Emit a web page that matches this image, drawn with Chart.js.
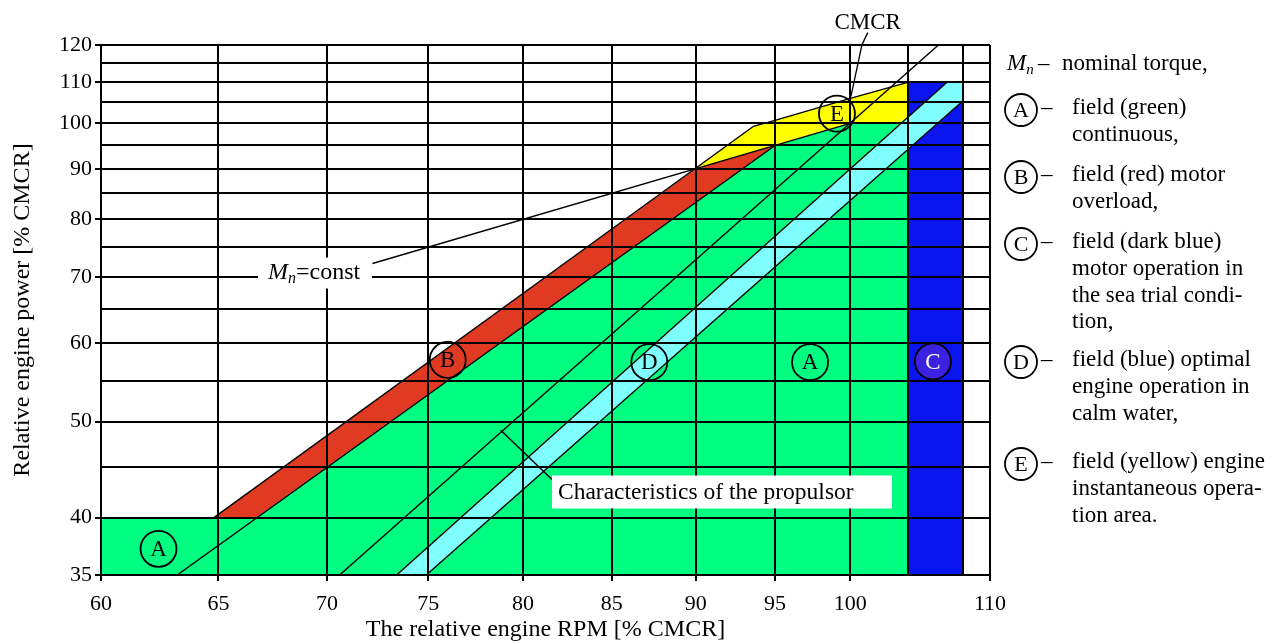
<!DOCTYPE html>
<html><head><meta charset="utf-8">
<script src="https://cdn.jsdelivr.net/npm/chart.js@4.4.1/dist/chart.umd.min.js"></script>
<style>html,body{margin:0;padding:0;background:#fff;}canvas{display:block;}</style>
</head><body>
<canvas id="c" width="1283" height="642"></canvas>
<script>
// ---- axis grid / tick labels ----
const xGrid = [60,65,70,75,80,85,90,95,100,104,108,110];
const xLabels = [60,65,70,75,80,85,90,95,100,110];
const yGrid = [35,40,45,50,55,60,65,70,75,80,85,90,95,100,105,110,115,120];
const yLabels = [35,40,50,60,70,80,90,100,110,120];

// ---- fields (polygon vertices: RPM %, power %) ----
const fieldA_rpm = [60,60,66.7,95,100,104,104];
const fieldA_pow = [35,40,40,95,100,100,35];
const fieldB_rpm = [64.8,90,95,66.7];
const fieldB_pow = [40,90,95,40];
const fieldC_rpm = [104,104,108,108];
const fieldC_pow = [35,110,110,35];
const fieldD_rpm = [73.4,106.8,108,108,74.9];
const fieldD_pow = [35,110,110,105.4,35];
const fieldE_rpm = [90,93.6,95,100,104,104,100,95];
const fieldE_pow = [90,99.3,100.7,106,110,100,100,95];

// ---- lines ----
const overloadUpper_rpm = [64.8,93.6];
const overloadUpper_pow = [40,99.3];
const overloadLower_rpm = [63.2,95];
const overloadLower_pow = [35,95];
const torqueLimit_rpm = [93.6,95,100,104];
const torqueLimit_pow = [99.3,100.7,106,110];
const mnConst_rpm = [72.2,100];
const mnConst_pow = [72.2,100];
const prop1_rpm = [70.6,106.2];
const prop1_pow = [35,120];
const prop2_rpm = [73.4,106.8];
const prop2_pow = [35,110];
const prop3_rpm = [74.9,108];
const prop3_pow = [35,105.4];
const cmcr_rpm = [100.05,100.8,101.2];
const cmcr_pow = [106.5,120,123.5];
const pointer_rpm = [78.8,81.6];
const pointer_pow = [49.0,43.7];

// ---- field markers (in data units) ----
const markerText = ['A','B','D','A','C','E'];
const markerRpm = [62.4,76.0,87.2,97.3,105.8,99.1];
const markerPow = [37.2,57.7,57.4,57.4,57.5,102.3];

const FONT = '"Liberation Serif", "Times New Roman", serif';

function pts(xs, ys){ return xs.map((x,i)=>({x:x, y:ys[i]})); }
function field(label, xs, ys, color, order){
  return {label, data: pts(xs,ys), showLine:true, fill:'shape', backgroundColor:color,
    borderColor:'rgba(0,0,0,0)', borderWidth:0, pointRadius:0, order};
}
function line(label, xs, ys, w, extra){
  return Object.assign({label, data: pts(xs,ys), showLine:true, fill:false, borderColor:'#000',
    borderWidth:w, pointRadius:0, order:0}, extra||{});
}

const datasets = [
  line('pointer', pointer_rpm, pointer_pow, 1.5),
  line('CMCR', cmcr_rpm, cmcr_pow, 1.3, {clip:false}),
  line('overload upper', overloadUpper_rpm, overloadUpper_pow, 1.4),
  line('overload lower', overloadLower_rpm, overloadLower_pow, 1.4),
  line('torque limit', torqueLimit_rpm, torqueLimit_pow, 1.4),
  line('Mn=const', mnConst_rpm, mnConst_pow, 1.4),
  line('propeller 1', prop1_rpm, prop1_pow, 1.4),
  line('propeller 2', prop2_rpm, prop2_pow, 1.4),
  line('propeller 3', prop3_rpm, prop3_pow, 1.4),
  field('D', fieldD_rpm, fieldD_pow, '#80FFFF', 1),
  field('C', fieldC_rpm, fieldC_pow, '#0A14EE', 2),
  field('E', fieldE_rpm, fieldE_pow, '#FFFF00', 3),
  field('B', fieldB_rpm, fieldB_pow, '#E03A22', 4),
  field('A', fieldA_rpm, fieldA_pow, '#00FF80', 5)
];

function drawMn(ctx, x, y, size){
  ctx.textAlign = 'left'; ctx.textBaseline = 'middle'; ctx.fillStyle = '#000';
  ctx.font = 'italic ' + size + 'px ' + FONT;
  ctx.fillText('M', x, y);
  let w = ctx.measureText('M').width;
  ctx.font = 'italic ' + Math.round(size*0.65) + 'px ' + FONT;
  ctx.fillText('n', x + w, y + size*0.28);
  w += ctx.measureText('n').width;
  return x + w;
}
function circleLetter(ctx, cx, cy, r, letter, fillCol, textCol, size){
  ctx.beginPath(); ctx.arc(cx, cy, r, 0, Math.PI*2);
  if (fillCol){ ctx.fillStyle = fillCol; ctx.fill(); }
  ctx.lineWidth = 1.8; ctx.strokeStyle = '#000'; ctx.stroke();
  ctx.fillStyle = textCol; ctx.font = size + 'px ' + FONT;
  ctx.textAlign = 'center'; ctx.textBaseline = 'middle';
  ctx.fillText(letter, cx, cy + 1);
}

const legendItems = [
  {key:'A', y:108, lines:['field (green)','continuous,']},
  {key:'B', y:175, lines:['field (red) motor','overload,']},
  {key:'C', y:242, lines:['field (dark blue)','motor operation in','the sea trial condi-','tion,']},
  {key:'D', y:360, lines:['field (blue) optimal','engine operation in','calm water,']},
  {key:'E', y:462, lines:['field (yellow) engine','instantaneous opera-','tion area.']}
];

const overlay = {
  id:'overlay',
  afterDraw(chart){
    const {ctx, scales:{x, y}, chartArea} = chart;
    ctx.save();
    // field markers
    markerText.forEach((t,i)=>{
      const px = x.getPixelForValue(markerRpm[i]), py = y.getPixelForValue(markerPow[i]);
      if (t === 'C') circleLetter(ctx, px, py, 18, t, '#3A22E0', '#fff', 23);
      else circleLetter(ctx, px, py, 18, t, null, '#000', 23);
    });
    // Mn=const label
    let bx = x.getPixelForValue(66.78), by = y.getPixelForValue(70.7);
    ctx.fillStyle = '#fff'; ctx.fillRect(bx, by - 15, 114, 31);
    let ex = drawMn(ctx, bx + 10, by, 24);
    ctx.font = '24px ' + FONT; ctx.fillStyle = '#000';
    ctx.fillText('=const', ex, by);
    // Characteristics of the propulsor
    bx = x.getPixelForValue(81.6); by = y.getPixelForValue(42.5);
    ctx.fillStyle = '#fff'; ctx.fillRect(bx, by - 16, 340, 33);
    ctx.fillStyle = '#000'; ctx.font = '23.5px ' + FONT; ctx.textAlign = 'left'; ctx.textBaseline = 'middle';
    ctx.fillText('Characteristics of the propulsor', bx + 6, by + 1);
    // CMCR label
    ctx.textAlign = 'center'; ctx.font = '23px ' + FONT;
    ctx.fillText('CMCR', x.getPixelForValue(cmcr_rpm[2]), chartArea.top - 22);
    // right legend
    const lx = chartArea.right + 17;
    ex = drawMn(ctx, lx, 64, 23);
    ctx.font = '23px ' + FONT; ctx.textAlign = 'left'; ctx.fillStyle = '#000';
    ctx.fillText('–', lx + 31, 64);
    ctx.fillText('nominal torque,', lx + 55, 64);
    legendItems.forEach(it=>{
      circleLetter(ctx, lx + 14, it.y + 2, 16, it.key, null, '#000', 22);
      ctx.font = '23px ' + FONT; ctx.textAlign = 'left'; ctx.textBaseline = 'middle'; ctx.fillStyle = '#000';
      ctx.fillText('–', lx + 34, it.y);
      it.lines.forEach((t,j)=>{ ctx.fillText(t, lx + 65, it.y + j*26.8); });
    });
    ctx.restore();
  }
};

new Chart(document.getElementById('c'), {
  type:'scatter',
  data:{datasets},
  options:{
    responsive:false, animation:false, devicePixelRatio:1, events:[],
    layout:{padding:{top:45, right:293, left:0, bottom:0}},
    plugins:{legend:{display:false}, tooltip:{enabled:false}},
    scales:{
      x:{type:'logarithmic', min:60, max:110,
        afterBuildTicks: s => { s.ticks = xGrid.map(v=>({value:v})); },
        afterFit: s => { s.height = 67; },
        ticks:{autoSkip:false, maxRotation:0, padding:10, color:'#000', font:{family:FONT, size:22}, z:1,
          callback: v => xLabels.includes(v) ? String(v) : ''},
        grid:{color:'#000', lineWidth:2, tickLength:6, tickWidth:2, z:1,
          tickColor: c => (c.tick && xLabels.includes(c.tick.value)) ? '#000' : 'rgba(0,0,0,0)'},
        border:{display:true, color:'#000', width:2, z:1},
        title:{display:true, text:'The relative engine RPM [% CMCR]', color:'#000', font:{family:FONT, size:24, lineHeight:1}, padding:0}
      },
      y:{type:'logarithmic', min:35, max:120,
        afterBuildTicks: s => { s.ticks = yGrid.map(v=>({value:v})); },
        afterFit: s => { s.width = 101; },
        ticks:{autoSkip:false, padding:3, color:'#000', font:{family:FONT, size:22}, z:1,
          callback: v => yLabels.includes(v) ? String(v) : ''},
        grid:{color:'#000', lineWidth:2, tickLength:6, tickWidth:2, z:1,
          tickColor: c => (c.tick && yLabels.includes(c.tick.value)) ? '#000' : 'rgba(0,0,0,0)'},
        border:{display:true, color:'#000', width:2, z:1},
        title:{display:true, text:'Relative engine power [% CMCR]', color:'#000', font:{family:FONT, size:24, lineHeight:1.2}, padding:{top:8, bottom:0}}
      }
    }
  },
  plugins:[overlay]
});
</script>
</body></html>
